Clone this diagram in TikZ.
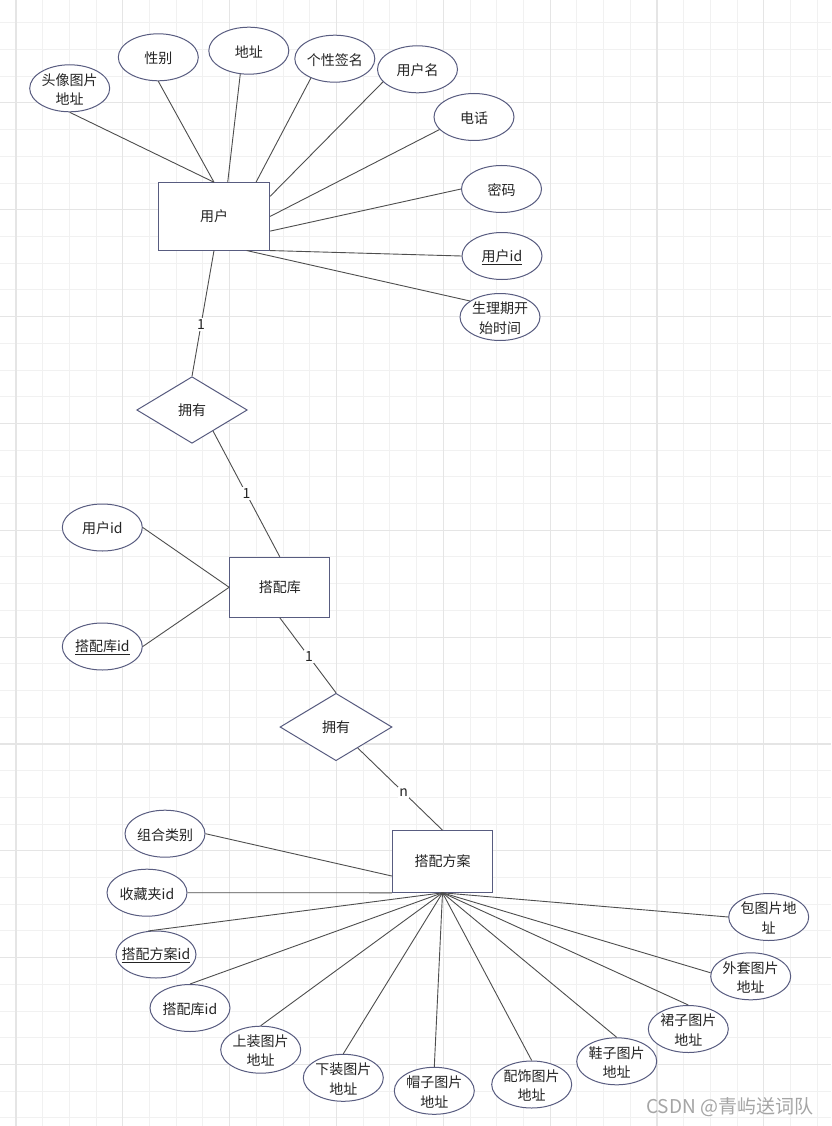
\documentclass[tikz,border=0pt]{standalone}
\usepackage{fontspec}
\setmainfont{Noto Sans CJK SC}
\usetikzlibrary{shapes.geometric}
\definecolor{shapecol}{RGB}{88,92,128}
\definecolor{conncol}{RGB}{78,78,78}
\definecolor{txtcol}{RGB}{36,36,36}
\definecolor{gridthincol}{RGB}{241,241,241}
\definecolor{gridboldcol}{RGB}{229,229,229}
\definecolor{wmcol}{RGB}{165,165,165}
\begin{document}
\begin{tikzpicture}[x=1pt,y=-1pt,
  gthin/.style={draw=gridthincol,line width=1pt},
  gbold/.style={draw=gridboldcol,line width=1.2pt},
  txt/.style={text=txtcol,align=center,inner sep=0pt,font=\fontsize{14}{19.5}\selectfont},
  attr/.style={ellipse,draw=shapecol,fill=white,line width=1pt,minimum width=80pt,minimum height=47pt,inner sep=0pt,
    label={[txt,yshift=-1pt]center:{#1}}},
  entity/.style={rectangle,draw=shapecol,fill=white,line width=1pt,inner sep=0pt,text=txtcol,font=\fontsize{14}{17}\selectfont},
  rel/.style={diamond,draw=shapecol,fill=white,line width=1pt,inner sep=0pt,text=txtcol,font=\fontsize{14}{17}\selectfont},
  conn/.style={draw=conncol,line width=0.9pt},
  card/.style={fill=white,inner sep=1.5pt,text=txtcol,font=\fontsize{14}{17}\selectfont},
  wmark/.style={text=wmcol,inner sep=0pt,font=\fontsize{19}{22}\selectfont}
]
\fill[white] (0,0) rectangle (831,1126);
\useasboundingbox (0,0) rectangle (831,1126);
% grid
\foreach \k in {0,...,30} \draw[gthin] ({16+26.71*\k},0) -- ({16+26.71*\k},1126);
\foreach \m in {-3,...,38} \draw[gthin] (0,{102.9+26.71*(\m)}) -- (831,{102.9+26.71*(\m)});
\foreach \k in {0,4,...,28} \draw[gbold] ({16+26.71*\k},0) -- ({16+26.71*\k},1126);
\foreach \m in {0,4,...,36} \draw[gbold] (0,{102.9+26.71*(\m)}) -- (831,{102.9+26.71*(\m)});

% user entity and attributes
\node[entity,minimum width=111.4pt,minimum height=67.3pt] (user) at (214,216.4) {用户};
\node[attr={头像图片\\地址}] (atx) at (69.7,88.3) {};
\node[attr={性别}] (axb) at (158.3,57.3) {};
\node[attr={地址}] (adz) at (248.8,50.7) {};
\node[attr={个性签名}] (aqm) at (334.8,58.7) {};
\node[attr={用户名}] (ayhm) at (417.5,69.3) {};
\node[attr={电话}] (adh) at (474,117) {};
\node[attr={密码}] (amm) at (501.5,189) {};
\node[attr={\underline{用户id}}] (auid) at (502,256) {};
\node[attr={生理期开\\始时间}] (asl) at (500,317) {};

% relationship 1
\node[rel,minimum width=110.6pt,minimum height=66.6pt] (d1) at (192,410) {拥有};

% library entity
\node[entity,minimum width=100.3pt,minimum height=60pt] (lib) at (279.8,587.3) {搭配库};
\node[attr={用户id}] (cuid) at (102.3,527.5) {};
\node[attr={\underline{搭配库id}}] (ckid) at (102.3,646.5) {};

% relationship 2
\node[rel,minimum width=112pt,minimum height=67.4pt] (d2) at (336,727) {拥有};

% plan entity
\node[entity,minimum width=100.4pt,minimum height=61.6pt] (plan) at (442.5,861.5) {搭配方案};
\node[attr={组合类别}] (bzh) at (165,833.7) {};
\node[attr={收藏夹id}] (bsc) at (147,892.7) {};
\node[attr={\underline{搭配方案id}}] (bfaid) at (156,954.5) {};
\node[attr={搭配库id}] (bkid) at (190,1008) {};
\node[attr={上装图片\\地址}] (bsz) at (260.7,1049.7) {};
\node[attr={下装图片\\地址}] (bxz) at (343.3,1077.8) {};
\node[attr={帽子图片\\地址}] (bmz) at (434.3,1090.8) {};
\node[attr={配饰图片\\地址}] (bps) at (531.7,1084.5) {};
\node[attr={鞋子图片\\地址}] (bxie) at (616.7,1061.3) {};
\node[attr={裙子图片\\地址}] (bqz) at (688.3,1029) {};
\node[attr={外套图片\\地址}] (bwt) at (750.7,976.3) {};
\node[attr={包图片地\\址}] (bbao) at (768.7,917) {};

% user connectors
\draw[conn] (user.north) -- (atx.south);
\draw[conn] (user.north) -- (axb.south);
\draw[conn] ([xshift=13.7pt]user.north) -- (adz.250);
\draw[conn] ([xshift=42pt]user.north) -- (aqm.219);
\draw[conn] ([yshift=-14pt]user.north east) -- (ayhm.200);
\draw[conn] (user.east) -- (adh.200);
\draw[conn] ([yshift=-14.7pt]user.east) -- (amm.west);
\draw[conn] (user.south east) -- (auid.west);
\draw[conn] ([xshift=32.7pt]user.south) -- (asl.152);

% relationship connectors
\draw[conn] (user.south) -- node[card,pos=0.59] (c1) {1} (d1.north);
\draw[conn] (d1.315) -- node[card,pos=0.5] (c2) {1} (lib.north);
\draw[conn] (lib.south) -- node[card,pos=0.52] (c3) {1} (d2.north);
\draw[conn] (d2.316) -- node[card,pos=0.54] (c4) {n} (plan.north);

% library connectors
\draw[conn] (lib.west) -- (cuid.east);
\draw[conn] (lib.west) -- (ckid.east);

% plan connectors
\draw[conn] ([yshift=-14.5pt]plan.west) -- (bzh.east);
\draw[conn] (plan.south west) -- (bsc.east);
\draw[conn] (plan.south) -- (bfaid.108);
\draw[conn] (plan.south) -- (bkid.north);
\draw[conn] (plan.south) -- (bsz.north);
\draw[conn] (plan.south) -- (bxz.north);
\draw[conn] (plan.south) -- (bmz.north);
\draw[conn] (plan.south) -- (bps.north);
\draw[conn] (plan.south) -- (bxie.north);
\draw[conn] (plan.south) -- (bqz.north);
\draw[conn] (plan.south) -- (bwt.175);
\draw[conn] (plan.south) -- (bbao.west);

% watermark
\node[wmark] (wm) at (729.7,1106.7) {CSDN @青屿送词队};
\end{tikzpicture}
\end{document}
